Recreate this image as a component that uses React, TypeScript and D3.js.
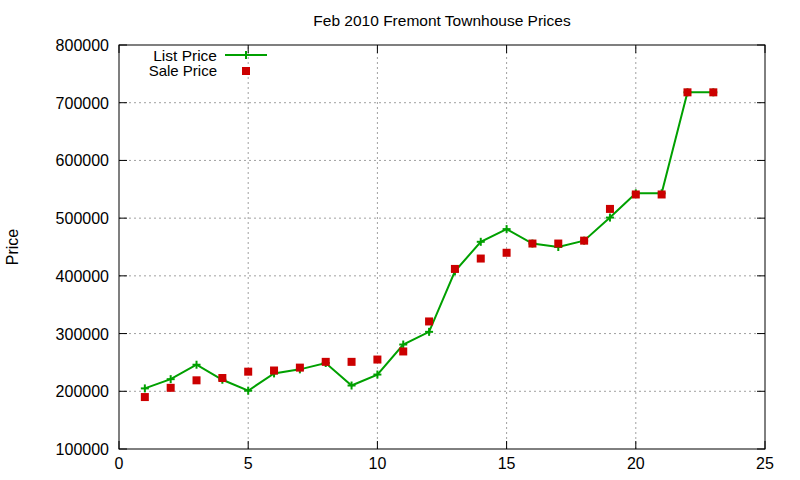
import React from 'react'
import * as d3 from 'd3'

const days = [1, 2, 3, 4, 5, 6, 7, 8, 9, 10, 11, 12, 13, 14, 15, 16, 17, 18, 19, 20, 21, 22, 23]
const listPrice = [
  205000, 221000, 246000, 220000, 201000, 231000, 238000, 249000, 210000, 229000, 281000, 303000,
  408000, 459000, 481000, 456000, 450000, 461000, 501000, 543000, 543000, 718000, 718000,
]
const salePrice = [
  190000, 206000, 219000, 223000, 234000, 236000, 241000, 251000, 251000, 255000, 269000, 321000,
  412000, 430000, 440000, 456000, 456000, 461000, 516000, 541000, 541000, 718000, 718000,
]
const xTicks = [0, 5, 10, 15, 20, 25]
const yTicks = [100000, 200000, 300000, 400000, 500000, 600000, 700000, 800000]

const W = 800
const H = 480
const m = { left: 119, right: 35, top: 45, bottom: 31 }
const font = 'Liberation Sans, Arial, sans-serif'
const green = '#00a000'
const red = '#cc0000'

export default function App() {
  const x = d3.scaleLinear().domain([0, 25]).range([m.left, W - m.right])
  const y = d3.scaleLinear().domain([100000, 800000]).range([H - m.bottom, m.top])
  const line = d3
    .line<number>()
    .x((_, i) => x(days[i]))
    .y((d) => y(d))

  const x0 = x(0)
  const x1 = x(25)
  const y0 = y(100000)
  const y1 = y(800000)

  return (
    <svg
      width={W}
      height={H}
      style={{ position: 'absolute', left: 0, top: 0, background: '#fff' }}
      fontFamily={font}
    >
      <rect width={W} height={H} fill="#fff" />
      {/* grid */}
      {xTicks.slice(1, -1).map((t) => (
        <line key={'gx' + t} x1={x(t)} x2={x(t)} y1={y0} y2={y1} stroke="#a0a0a0" strokeDasharray="2,3" />
      ))}
      {yTicks.slice(1, -1).map((t) => (
        <line key={'gy' + t} x1={x0} x2={x1} y1={y(t)} y2={y(t)} stroke="#a0a0a0" strokeDasharray="2,3" />
      ))}
      {/* ticks, mirrored */}
      {xTicks.map((t) => (
        <g key={'tx' + t}>
          <line x1={x(t)} x2={x(t)} y1={y0} y2={y0 - 8} stroke="#000" />
          <line x1={x(t)} x2={x(t)} y1={y1} y2={y1 + 8} stroke="#000" />
          <text x={x(t)} y={y0 + 20} textAnchor="middle" fontSize={16}>
            {t}
          </text>
        </g>
      ))}
      {yTicks.map((t) => (
        <g key={'ty' + t}>
          <line x1={x0} x2={x0 + 8} y1={y(t)} y2={y(t)} stroke="#000" />
          <line x1={x1} x2={x1 - 8} y1={y(t)} y2={y(t)} stroke="#000" />
          <text x={x0 - 10} y={y(t) + 6} textAnchor="end" fontSize={16}>
            {t}
          </text>
        </g>
      ))}
      <rect x={x0} y={y1} width={x1 - x0} height={y0 - y1} fill="none" stroke="#000" />

      {/* list price */}
      <path d={line(listPrice) ?? ''} fill="none" stroke={green} strokeWidth={2} />
      {listPrice.map((v, i) => (
        <g key={'lp' + i} stroke={green} strokeWidth={2}>
          <line x1={x(days[i]) - 4} x2={x(days[i]) + 4} y1={y(v)} y2={y(v)} />
          <line x1={x(days[i])} x2={x(days[i])} y1={y(v) - 4} y2={y(v) + 4} />
        </g>
      ))}
      {/* sale price */}
      {salePrice.map((v, i) => (
        <rect key={'sp' + i} x={x(days[i]) - 4} y={y(v) - 4} width={8} height={8} fill={red} />
      ))}

      {/* legend */}
      <text x={217} y={60.5} textAnchor="end" fontSize={15.5}>
        List Price
      </text>
      <line x1={225} x2={267} y1={55} y2={55} stroke={green} strokeWidth={2} />
      <line x1={246} x2={246} y1={51} y2={59} stroke={green} strokeWidth={2} />
      <text x={217} y={76} textAnchor="end" fontSize={15}>
        Sale Price
      </text>
      <rect x={242} y={67} width={8} height={8} fill={red} />

      <text x={442} y={26} textAnchor="middle" fontSize={15.5}>
        Feb 2010 Fremont Townhouse Prices
      </text>
      <text transform="translate(18,247) rotate(-90)" textAnchor="middle" fontSize={16}>
        Price
      </text>
    </svg>
  )
}
